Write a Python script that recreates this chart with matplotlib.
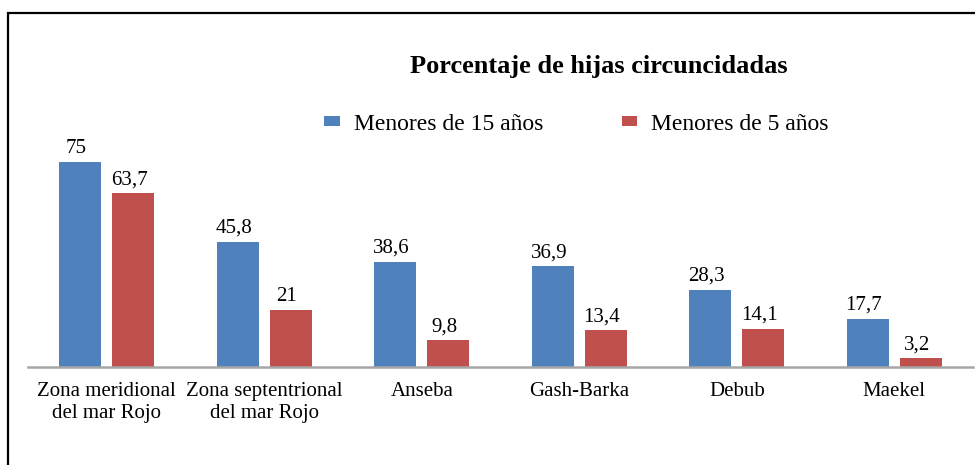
import matplotlib
matplotlib.use("Agg")
import matplotlib.pyplot as plt
from matplotlib.patches import Rectangle
import numpy as np

##### data
regions = ["Zona meridional\ndel mar Rojo", "Zona septentrional\ndel mar Rojo",
           "Anseba", "Gash-Barka", "Debub", "Maekel"]
under15 = [75, 45.8, 38.6, 36.9, 28.3, 17.7]
under5 = [63.7, 21, 9.8, 13.4, 14.1, 3.2]
series_names = ["Menores de 15 años", "Menores de 5 años"]
title = "Porcentaje de hijas circuncidadas"

blue = "#4F81BD"
red = "#C0504D"

plt.rcParams['font.family'] = ['Liberation Serif', 'DejaVu Serif']

fig = plt.figure(figsize=(9.75, 4.65), dpi=100)
ax = fig.add_axes([28/975, 1 - 367/465, 945/975, 273/465])

x = np.arange(len(regions))
w = 0.267
off = 0.168
b1 = ax.bar(x - off, under15, w, color=blue, label=series_names[0])
b2 = ax.bar(x + off, under5, w, color=red, label=series_names[1])

# value labels with decimal comma
for bars, vals in ((b1, under15), (b2, under5)):
    for bar, v in zip(bars, vals):
        txt = ("%g" % v).replace(".", ",")
        ax.annotate(txt, (bar.get_x() + bar.get_width() / 2, v),
                    xytext=(-4, 9), textcoords="offset pixels",
                    ha="center", va="baseline", fontsize=15)

ax.set_xlim(-0.5, len(regions) - 0.5)
ax.set_ylim(0, 100)
ax.set_xticks(x)
ax.set_xticklabels(regions, fontsize=15, linespacing=1.2)
ax.tick_params(axis="x", length=0, pad=11)
ax.set_yticks([])
for s in ("top", "left", "right"):
    ax.spines[s].set_visible(False)
ax.spines["bottom"].set_color("#A6A6A6")
ax.spines["bottom"].set_linewidth(1.8)
ax.patch.set_alpha(0)

fig.text(598.5/975, 1 - 73/465, title, ha="center", va="baseline",
         fontsize=19, fontweight="bold")

fig.legend(handles=[b1, b2], labels=series_names, loc="center",
           bbox_to_anchor=(576.5/975, 1 - 124/465), ncol=2, frameon=False,
           fontsize=17, handlelength=0.64, handleheight=0.3,
           handletextpad=0.59, columnspacing=3.35, borderpad=0.2)

# outer border (left and top visible)
fig.add_artist(Rectangle((8/975, -0.1), 1.2, 1.1 - 13/465,
                         transform=fig.transFigure, fill=False,
                         edgecolor="black", linewidth=1.6, clip_on=False))

fig.savefig("out.png", dpi=100)
